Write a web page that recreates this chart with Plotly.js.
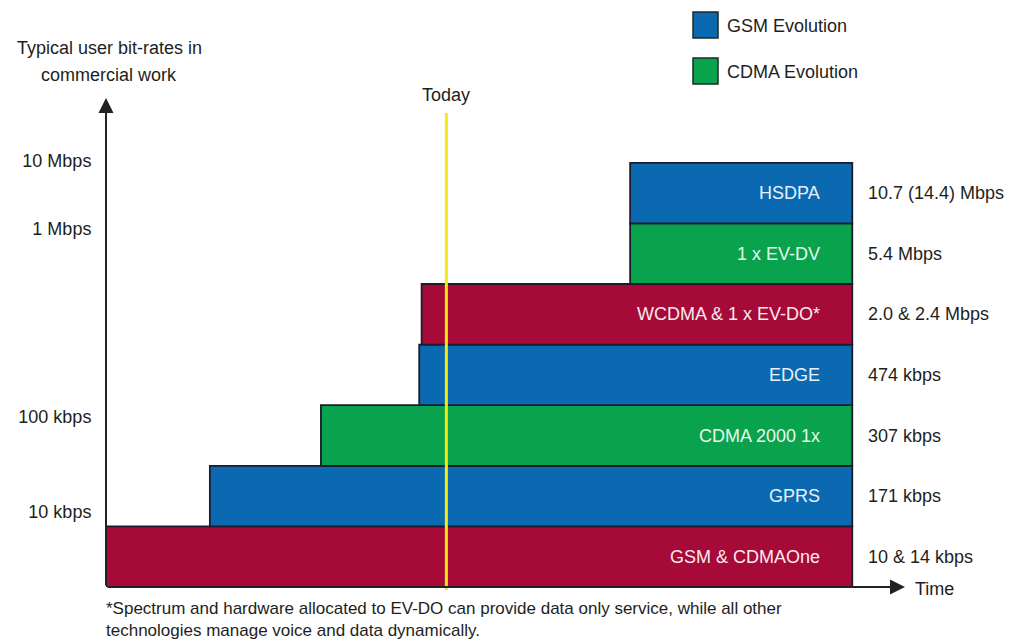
<!DOCTYPE html>
<html>
<head>
<meta charset="utf-8">
<script src="https://cdn.plot.ly/plotly-3.0.1.min.js"></script>
<style>html,body{margin:0;padding:0;background:#fff;}#chart{width:1010px;height:640px;}</style>
</head>
<body>
<div id="chart"></div>
<script>
// Technologies, bottom row to top row
const technologies = ["GSM & CDMAOne", "GPRS", "CDMA 2000 1x", "EDGE", "WCDMA & 1 x EV-DO*", "1 x EV-DV", "HSDPA"];
const families = ["other", "gsm", "cdma", "gsm", "other", "cdma", "gsm"];
// start / end on the (schematic) time axis, 0..100
const startTime = [0, 13.0, 26.9, 39.2, 39.5, 65.6, 65.6];
const endTime = [93.4, 93.4, 93.4, 93.4, 93.4, 93.4, 93.4];
const peakRates = ["10 & 14 kbps", "171 kbps", "307 kbps", "474 kbps", "2.0 & 2.4 Mbps", "5.4 Mbps", "10.7 (14.4) Mbps"];
const todayTime = 42.6;
// y-axis bit-rate labels and their row positions
const rateLabels = ["10 kbps", "100 kbps", "1 Mbps", "10 Mbps"];
const rateRows = [0.74, 2.305, 5.42, 6.53];
const legendNames = ["GSM Evolution", "CDMA Evolution"];
const legendFamilies = ["gsm", "cdma"];
const titleLines = ["Typical user bit-rates in", "commercial work"];
const footnoteLines = ["*Spectrum and hardware allocated to EV-DO can provide data only service, while all other",
  "technologies manage voice and data dynamically."];

const familyColor = {gsm: "#0b69b2", cdma: "#09a24d", other: "#a60a38"};
const familyText = {gsm: "#e6f1fb", cdma: "#e8f8ec", other: "#fbe9ee"};
const FONT = "Liberation Sans, Arial, sans-serif";
const INK = "#1e1e1e";

// layout geometry (pixels)
const L = 106, R = 105, T = 100, B = 53, WIDTH = 1010, HEIGHT = 640;
const PW = WIDTH - L - R, PH = HEIGHT - T - B;
const ROWPX = 60.6;
const px = v => (v - L) / PW;
const py = v => (HEIGHT - B - v) / PH;

const rows = technologies.map((_, i) => i);
const trace = {
  type: "bar",
  orientation: "h",
  y: rows,
  base: startTime,
  x: endTime.map((e, i) => e - startTime[i]),
  width: 1,
  marker: {color: families.map(f => familyColor[f]), line: {color: "#1c1c2c", width: 1.8}},
  hoverinfo: "skip",
  showlegend: false
};

const annotations = [];
technologies.forEach((t, i) => {
  annotations.push({x: endTime[i], y: i, xref: "x", yref: "y", text: t, showarrow: false,
    xanchor: "right", yanchor: "middle", xshift: -30, font: {family: FONT, size: 18, color: familyText[families[i]]}});
  annotations.push({x: endTime[i], y: i, xref: "x", yref: "y", text: peakRates[i], showarrow: false,
    xanchor: "left", yanchor: "middle", xshift: 14, font: {family: FONT, size: 18, color: INK}});
});
// axis arrows
annotations.push({x: 100, y: -0.5, ax: 0, ay: -0.5, xref: "x", yref: "y", axref: "x", ayref: "y",
  showarrow: true, arrowhead: 2, arrowsize: 1.5, arrowwidth: 2, arrowcolor: "#222", text: "", standoff: 0});
annotations.push({x: 0, y: (HEIGHT - B - 98) / ROWPX - 0.5, ax: 0, ay: -0.5, xref: "x", yref: "y", axref: "x", ayref: "y",
  showarrow: true, arrowhead: 2, arrowsize: 1.5, arrowwidth: 2, arrowcolor: "#222", text: "", standoff: 0});
annotations.push({x: px(913), y: py(589), xref: "paper", yref: "paper", text: "Time", showarrow: false,
  xanchor: "left", yanchor: "middle", font: {family: FONT, size: 18, color: INK}});
annotations.push({x: todayTime, y: py(95), xref: "x", yref: "paper", text: "Today", showarrow: false,
  xanchor: "center", yanchor: "middle", font: {family: FONT, size: 18, color: INK}});
titleLines.forEach((t, i) => {
  annotations.push({x: px(109), y: py(48 + 27 * i), xref: "paper", yref: "paper", text: t, showarrow: false,
    xanchor: "center", yanchor: "middle", font: {family: FONT, size: 18, color: INK}});
});
footnoteLines.forEach((t, i) => {
  annotations.push({x: px(104), y: py(608 + 22 * i), xref: "paper", yref: "paper", xanchor: "left", yanchor: "middle",
    text: t, showarrow: false, font: {family: FONT, size: 17, color: INK}});
});

const shapes = [];
shapes.push({type: "line", xref: "x", yref: "paper", x0: todayTime, x1: todayTime, y0: py(113), y1: py(590),
  line: {color: "#f4ea12", width: 3}, layer: "above"});
legendNames.forEach((n, i) => {
  const top = 12 + i * 46;
  shapes.push({type: "rect", xref: "paper", yref: "paper", x0: px(693), x1: px(718), y0: py(top + 26), y1: py(top),
    fillcolor: familyColor[legendFamilies[i]], line: {color: "#1c2a2a", width: 1.5}});
  annotations.push({x: px(725), y: py(top + 14), xref: "paper", yref: "paper", xanchor: "left", yanchor: "middle", text: n,
    showarrow: false, font: {family: FONT, size: 18, color: INK}});
});

const layout = {
  width: WIDTH, height: HEIGHT,
  margin: {l: L, r: R, t: T, b: B, pad: 0},
  paper_bgcolor: "#fff", plot_bgcolor: "#fff",
  showlegend: false,
  xaxis: {range: [0, 100], showgrid: false, zeroline: false, showticklabels: false, showline: false, fixedrange: true},
  yaxis: {range: [-0.5, PH / ROWPX - 0.5], showgrid: false, zeroline: false, showline: false,
    tickmode: "array", tickvals: rateRows, ticktext: rateLabels, ticks: "outside", ticklen: 10,
    tickcolor: "rgba(0,0,0,0)", tickfont: {family: FONT, size: 18, color: INK}, fixedrange: true},
  annotations: annotations,
  shapes: shapes,
  bargap: 0
};

Plotly.newPlot("chart", [trace], layout, {displayModeBar: false, staticPlot: true});
</script>
</body>
</html>
